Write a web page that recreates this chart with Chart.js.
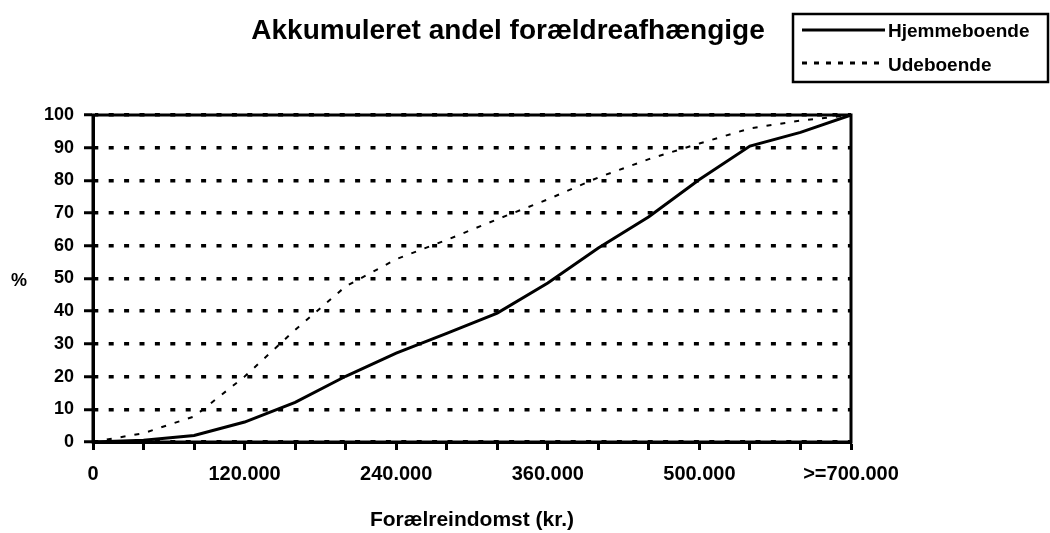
<!DOCTYPE html>
<html>
<head>
<meta charset="utf-8">
<script src="https://cdn.jsdelivr.net/npm/chart.js@4/dist/chart.umd.min.js"></script>
<style>
  html, body { margin: 0; padding: 0; background: #fff; }
  #wrap { width: 1050px; height: 533px; }
</style>
</head>
<body>
<div id="wrap"><canvas id="graph" width="1050" height="533"></canvas></div>
<script>
// x categories, only every third one is labelled in the original
let xLabels = ['0', '', '', '120.000', '', '', '240.000', '', '', '360.000', '', '', '500.000', '', '', '>=700.000']

// accumulated share (%)
let hjemmeboende = [0, 0.5, 2, 6.1, 12.1, 20.1, 27.2, 33.2, 39.4, 48.6, 59.3, 68.9, 80.3, 90.5, 94.7, 100]
let udeboende = [0, 2.7, 7.8, 20, 34.3, 47.6, 55.9, 61.8, 68.1, 74.2, 80.9, 86.5, 91.3, 95.9, 98.3, 100]

let seriesNames = ['Hjemmeboende', 'Udeboende']
let chartTitle = 'Akkumuleret andel forældreafhængige'
let xTitle = 'Forælreindomst (kr.)'
let yTitle = '%'

const FONT = '"Liberation Sans", Arial, sans-serif'
Chart.defaults.font.family = FONT
Chart.defaults.color = '#000'

// plot frame, title, legend and the "%" label
const decor = {
  id: 'decor',
  beforeDatasetsDraw(chart) {
    let c = chart.ctx
    let a = chart.chartArea
    c.save()
    c.strokeStyle = '#000'
    c.lineWidth = 3
    c.strokeRect(a.left, a.top, a.right - a.left, a.bottom - a.top)
    c.restore()
  },
  afterDraw(chart) {
    let c = chart.ctx
    c.save()
    c.fillStyle = '#000'
    c.strokeStyle = '#000'

    // title
    c.font = 'bold 28px ' + FONT
    c.textAlign = 'center'
    c.textBaseline = 'alphabetic'
    c.fillText(chartTitle, 508, 39)

    // y title
    c.font = 'bold 18px ' + FONT
    c.fillText(yTitle, 19, 286)

    // legend box
    c.lineWidth = 2.5
    c.strokeRect(793, 14, 255, 68)
    c.font = 'bold 19px ' + FONT
    c.textAlign = 'left'

    c.lineWidth = 3
    c.beginPath()
    c.moveTo(802, 30)
    c.lineTo(885, 30)
    c.stroke()
    c.fillText(seriesNames[0], 888, 37)

    c.setLineDash([5, 7])
    c.beginPath()
    c.moveTo(802, 63)
    c.lineTo(885, 63)
    c.stroke()
    c.setLineDash([])
    c.fillText(seriesNames[1], 888, 71)
    c.restore()
  }
}

let ctx = document.getElementById('graph').getContext('2d')

new Chart(ctx, {
  type: 'line',
  data: {
    labels: xLabels,
    datasets: [{
      label: seriesNames[0],
      data: hjemmeboende,
      borderColor: '#000',
      backgroundColor: '#000',
      borderWidth: 3,
      pointRadius: 0,
      tension: 0,
      fill: false
    },
    {
      label: seriesNames[1],
      data: udeboende,
      borderColor: '#000',
      backgroundColor: '#000',
      borderWidth: 2,
      borderDash: [5, 9],
      pointRadius: 0,
      tension: 0,
      fill: false
    }]
  },
  options: {
    responsive: false,
    animation: false,
    layout: { padding: { top: 115, right: 199, left: 0, bottom: 0 } },
    plugins: {
      legend: { display: false },
      tooltip: { enabled: false }
    },
    scales: {
      x: {
        afterFit(scale) { scale.height = 91 },
        grid: {
          drawOnChartArea: false,
          drawTicks: true,
          tickLength: 8,
          tickWidth: 3,
          tickColor: '#000'
        },
        border: { display: true, color: '#000', width: 3 },
        ticks: {
          autoSkip: false,
          maxRotation: 0,
          padding: 12,
          font: { size: 20, weight: 'bold' }
        },
        title: {
          display: true,
          text: xTitle,
          font: { size: 21, weight: 'bold' },
          padding: { top: 0, bottom: 0 }
        }
      },
      y: {
        min: 0,
        max: 100,
        afterFit(scale) { scale.width = 93 },
        grid: {
          color: '#000',
          lineWidth: 3.5,
          tickLength: 9,
          tickWidth: 3,
          tickColor: '#000',
          tickBorderDash: []
        },
        border: { display: true, color: '#000', width: 3, dash: [5, 10.4], dashOffset: 1.7 },
        ticks: {
          stepSize: 10,
          padding: 10,
          font: { size: 18, weight: 'bold' }
        }
      }
    }
  },
  plugins: [decor]
})
</script>
</body>
</html>
